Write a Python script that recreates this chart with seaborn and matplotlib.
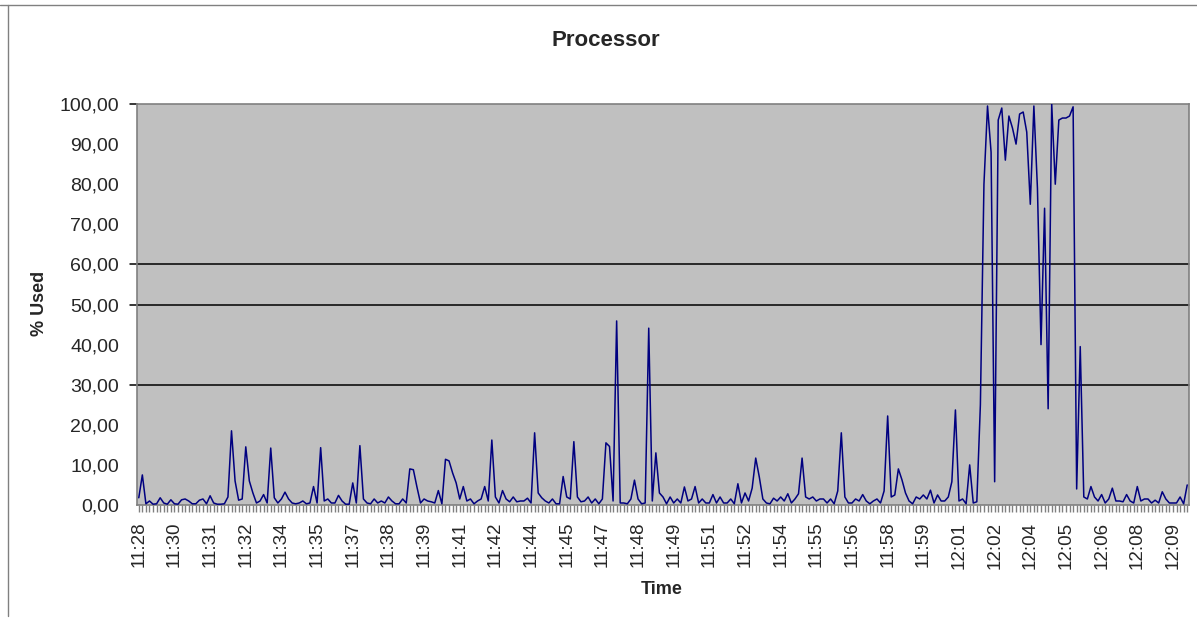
'''processor usage line chart (excel style)'''
import pandas as pd
import matplotlib
matplotlib.use("Agg")
import matplotlib.pyplot as plt
import seaborn as sns

# cpu % used, one sample per category
cpu_1128 = [1.8, 7.5, 0.3, 1.0, 0.2, 0.3, 1.8, 0.5, 0.2, 1.3,
            0.3, 0.2, 1.3, 1.5, 1.0, 0.3, 0.3, 1.2, 1.5, 0.3,
            2.3, 0.5, 0.2, 0.2, 0.3, 2.0, 18.5, 6.0, 1.2, 1.5,
            14.5, 6.0, 3.0, 0.5, 1.0, 2.6, 0.5, 14.2, 1.8, 0.5,
            1.5, 3.2, 1.5, 0.5, 0.3, 0.5, 1.0, 0.3, 0.5, 4.6]
cpu_1135 = [0.5, 14.3, 1.0, 1.5, 0.5, 0.5, 2.4, 1.0, 0.2, 0.2,
            5.5, 0.5, 14.8, 1.5, 0.5, 0.3, 1.5, 0.5, 1.0, 0.5,
            2.0, 1.0, 0.3, 0.3, 1.5, 0.5, 9.0, 8.8, 4.5, 0.5,
            1.5, 1.0, 0.8, 0.5, 3.6, 0.3, 11.4, 11.0, 8.0, 5.5,
            1.5, 4.6, 1.0, 1.5, 0.3, 1.0, 1.5, 4.6, 1.0, 16.2]
cpu_1142 = [2.0, 0.5, 3.6, 1.5, 0.8, 2.0, 0.8, 1.0, 1.0, 1.7,
            0.5, 18.0, 3.0, 1.8, 1.0, 0.5, 1.5, 0.3, 0.3, 7.1,
            2.0, 1.5, 15.8, 2.0, 0.8, 1.0, 2.0, 0.5, 1.5, 0.3,
            1.5, 15.5, 14.6, 1.0, 45.9, 0.5, 0.5, 0.3, 1.5, 6.2,
            1.5, 0.3, 0.5, 44.1, 1.0, 13.0, 3.0, 2.0, 0.3, 2.0]
cpu_1149 = [0.5, 1.5, 0.5, 4.5, 1.0, 1.5, 4.6, 0.5, 1.5, 0.5,
            0.5, 2.6, 0.5, 2.0, 0.5, 0.5, 1.5, 0.3, 5.3, 0.5,
            3.0, 1.0, 4.2, 11.7, 7.0, 1.5, 0.5, 0.3, 1.7, 1.0,
            2.0, 1.0, 2.8, 0.5, 1.5, 2.8, 11.7, 2.0, 1.5, 2.0,
            1.0, 1.5, 1.5, 0.5, 1.5, 0.3, 3.5, 18.0, 2.0, 0.5]
cpu_1156 = [0.5, 1.5, 1.0, 2.6, 1.0, 0.3, 1.0, 1.5, 0.5, 3.5,
            22.2, 2.0, 2.5, 9.0, 6.3, 3.0, 1.0, 0.3, 2.0, 1.5,
            2.5, 1.5, 3.7, 0.5, 2.5, 1.0, 1.0, 2.0, 5.8, 23.7,
            1.0, 1.5, 0.3, 10.0, 0.5, 0.8, 25.0, 80.0, 99.5, 88.0,
            5.8, 96.0, 99.0, 86.0, 97.0, 94.0, 90.0, 97.5, 98.0, 93.0]
cpu_1204 = [75.0, 99.5, 79.0, 40.0, 74.0, 24.0, 100.0, 80.0, 96.0, 96.5,
            96.5, 97.0, 99.3, 4.0, 39.5, 2.0, 1.5, 4.6, 2.0, 1.0,
            2.6, 0.5, 1.5, 4.2, 1.0, 1.0, 0.8, 2.6, 1.0, 0.5,
            4.6, 1.0, 1.5, 1.5, 0.5, 1.2, 0.5, 3.3, 1.5, 0.5,
            0.5, 0.5, 2.0, 0.3, 5.0]

time_labels = ["11:28", "11:30", "11:31", "11:32", "11:34", "11:35", "11:37",
               "11:38", "11:39", "11:41", "11:42", "11:44", "11:45", "11:47",
               "11:48", "11:49", "11:51", "11:52", "11:54", "11:55", "11:56",
               "11:58", "11:59", "12:01", "12:02", "12:04", "12:05", "12:06",
               "12:08", "12:09"]
label_every = 10
y_ticks = [0, 10, 20, 30, 40, 50, 60, 70, 80, 90, 100]
grid_at = [30, 50, 60]

cpu = cpu_1128 + cpu_1135 + cpu_1142 + cpu_1149 + cpu_1156 + cpu_1204
df = pd.DataFrame({"sample": range(len(cpu)), "used": cpu})

sns.set_style("white")
plt.rcParams["font.family"] = ["Liberation Sans", "DejaVu Sans"]

fig = plt.figure(figsize=(11.97, 6.19), dpi=100)
ax = fig.add_axes([137 / 1197, 1 - 505 / 619, 1052 / 1197, 401 / 619])
ax.set_facecolor("#C0C0C0")

for g in grid_at:
    ax.axhline(g, xmin=-7 / 1052, xmax=1, color="black", lw=1.1, clip_on=False, zorder=1)
ax.axhline(100, xmin=-7 / 1052, xmax=0, color="black", lw=1.1, clip_on=False)

sns.lineplot(data=df, x="sample", y="used", ax=ax, color="#000080", lw=1.1, zorder=3)

ax.set_xlim(-0.5, len(cpu) - 0.5)
ax.set_ylim(0, 100)

ax.set_yticks(y_ticks)
ax.set_yticklabels([f"{v:.2f}".replace(".", ",") for v in y_ticks], fontsize=14)
ax.tick_params(axis="y", length=0, pad=13)

ax.set_xticks(range(0, len(cpu), label_every))
ax.set_xticklabels(time_labels, rotation=90, fontsize=13.5)
ax.set_xticks(range(len(cpu)), minor=True)
ax.tick_params(axis="x", which="both", length=5, color="#808080", width=1, direction="out", bottom=True)
ax.tick_params(axis="x", which="major", pad=7)

for s in ax.spines.values():
    s.set_color("#808080")
    s.set_linewidth(1.2)

ax.set_xlabel("")
ax.set_ylabel("")
fig.text(606 / 1197, 1 - 41 / 619, "Processor", ha="center", va="center",
         fontsize=16, fontweight="bold")
fig.text(40 / 1197, 1 - 303 / 619, "% Used", ha="center", va="center",
         rotation=90, fontsize=13, fontweight="bold")
fig.text(662 / 1197, 1 - 589 / 619, "Time", ha="center", va="center",
         fontsize=13, fontweight="bold")

# outer frame lines of the chart object
fig.add_artist(plt.Line2D([8 / 1197, 8 / 1197], [0.005, 0.992], color="#808080", lw=1))
fig.add_artist(plt.Line2D([0, 1], [0.992, 0.992], color="#808080", lw=1))

fig.savefig("out.png", dpi=100)
